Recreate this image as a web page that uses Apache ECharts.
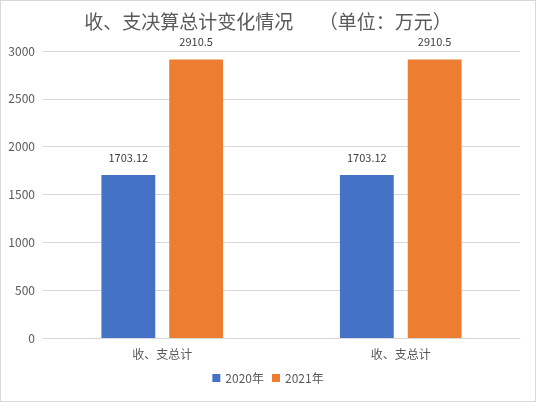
<!DOCTYPE html>
<html><head><meta charset="utf-8">
<script src="https://cdn.jsdelivr.net/npm/echarts@6/dist/echarts.min.js"></script>
<style>html,body{margin:0;padding:0;background:#fff}#c{width:536px;height:402px;box-sizing:border-box;border:1px solid #d9d9d9}</style>
</head><body><div id="c"></div>
<script>
const categories = ['收、支总计', '收、支总计'];
const seriesNames = ['2020年', '2021年'];
const values2020 = [1703.12, 1703.12];
const values2021 = [2910.5, 2910.5];
const yTicks = {min: 0, max: 3000, interval: 500};
const font = '"Noto Sans CJK SC", "Noto Sans", sans-serif';
const chart = echarts.init(document.getElementById('c'));
chart.setOption({
  animation: false,
  color: ['#4472C4', '#ED7D31'],
  title: {text: '收、支决算总计变化情况      （单位：万元）', left: 'center', top: 6,
    textStyle: {fontFamily: font, fontSize: 19, fontWeight: 'normal', color: '#595959'}},
  legend: {bottom: 12, left: 'center', itemWidth: 8, itemHeight: 8, itemGap: 8, icon: 'rect',
    textStyle: {fontFamily: font, fontSize: 12, color: '#595959'}, data: seriesNames},
  grid: {left: 42, right: 15, top: 50, bottom: 63},
  xAxis: {type: 'category', data: categories,
    axisLine: {lineStyle: {color: '#d9d9d9'}}, axisTick: {show: false},
    axisLabel: {fontFamily: font, fontSize: 12, color: '#595959', margin: 10}},
  yAxis: {type: 'value', min: yTicks.min, max: yTicks.max, interval: yTicks.interval,
    axisLine: {show: false}, axisTick: {show: false},
    splitLine: {lineStyle: {color: '#d9d9d9'}},
    axisLabel: {fontFamily: font, fontSize: 12, color: '#595959', margin: 8, formatter: v => String(v)}},
  series: [
    {name: seriesNames[0], type: 'bar', data: values2020, barGap: '26%', barCategoryGap: '49%',
      label: {show: true, position: 'top', distance: 12, fontFamily: font, fontSize: 11, color: '#404040'}},
    {name: seriesNames[1], type: 'bar', data: values2021, barGap: '26%', barCategoryGap: '49%',
      label: {show: true, position: 'top', distance: 12, fontFamily: font, fontSize: 11, color: '#404040'}}
  ]
});
</script></body></html>
